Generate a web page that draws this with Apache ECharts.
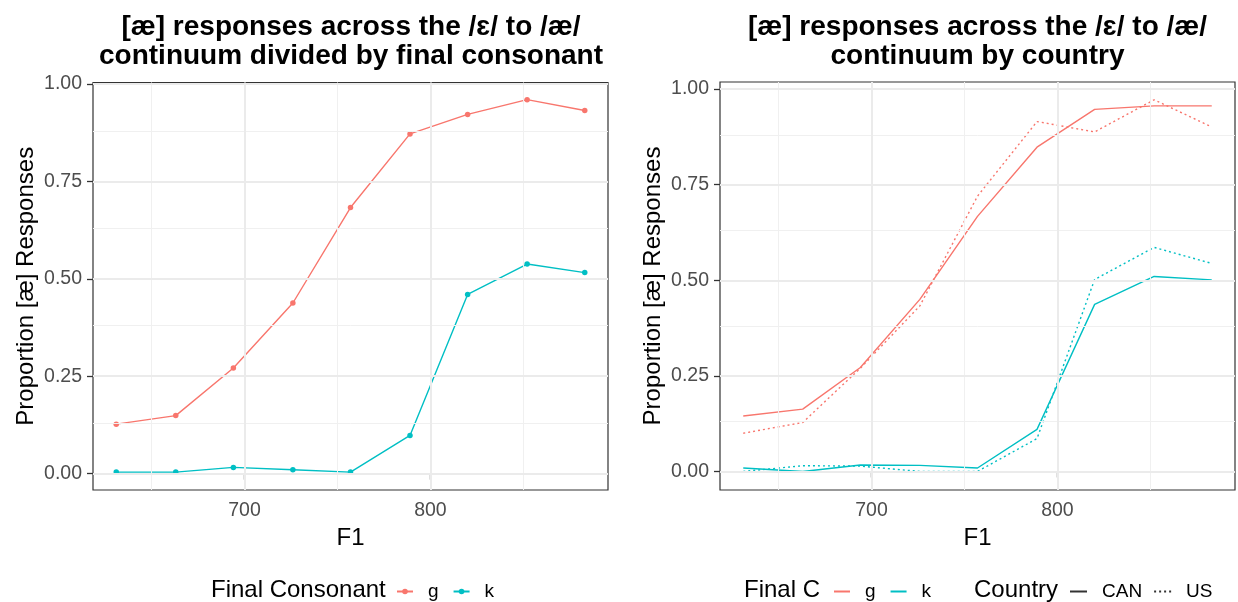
<!DOCTYPE html>
<html>
<head>
<meta charset="utf-8">
<script src="https://cdn.jsdelivr.net/npm/echarts@6/dist/echarts.min.js"></script>
<style>
html,body{margin:0;padding:0;background:#fff;}
#c{width:1238px;height:602px;}
</style>
</head>
<body>
<div id="c"></div>
<script>
// ---- data ----
const F1 = [631, 663, 694, 726, 757, 789, 820, 852, 883];
const LEFT_G = [0.127, 0.149, 0.271, 0.438, 0.683, 0.872, 0.922, 0.960, 0.932];
const LEFT_K = [0.004, 0.004, 0.016, 0.010, 0.004, 0.098, 0.460, 0.538, 0.516];
const G_CAN = [0.145, 0.163, 0.272, 0.450, 0.667, 0.848, 0.947, 0.956, 0.956];
const G_US  = [0.100, 0.128, 0.270, 0.433, 0.720, 0.915, 0.888, 0.972, 0.901];
const K_CAN = [0.009, 0.000, 0.017, 0.016, 0.009, 0.110, 0.437, 0.510, 0.501];
const K_US  = [0.000, 0.015, 0.014, 0.000, 0.000, 0.086, 0.502, 0.586, 0.544];
const Y_TICKS = [0, 0.25, 0.5, 0.75, 1];
const Y_MINOR = [0.125, 0.375, 0.625, 0.875];
const X_TICKS = [700, 800];
const X_MINOR = [650, 750, 850];
const TITLE_LEFT = '[æ] responses across the /ɛ/ to /æ/\ncontinuum divided by final consonant';
const TITLE_RIGHT = '[æ] responses across the /ɛ/ to /æ/\ncontinuum by country';
const Y_NAME = 'Proportion [æ] Responses';
const X_NAME = 'F1';

const RED = '#F8766D', CYAN = '#00BFC4';
const FONT = '"Liberation Sans", Arial, Helvetica, sans-serif';
const pairs = arr => F1.map((x, i) => [x, arr[i]]);

function xAxis(gi) {
  return {
    type: 'value', gridIndex: gi, min: 618.5, max: 895.5,
    name: X_NAME, nameLocation: 'middle', nameGap: 30,
    nameTextStyle: {fontSize: 24, color: '#000', fontFamily: FONT},
    axisLine: {show: false},
    axisTick: {show: true, length: 6, lineStyle: {color: '#333', width: 1.3}, customValues: X_TICKS},
    axisLabel: {customValues: X_TICKS, fontSize: 19.5, color: '#4D4D4D', fontFamily: FONT, margin: 11,
      formatter: v => String(Math.round(v))},
    splitLine: {show: false}
  };
}
function yAxis(gi, mn, mx) {
  return {
    type: 'value', gridIndex: gi, min: mn, max: mx,
    name: Y_NAME, nameLocation: 'middle', nameGap: 55, nameRotate: 90,
    nameTextStyle: {fontSize: 24, color: '#000', fontFamily: FONT},
    axisLine: {show: false},
    axisTick: {show: true, length: 6, lineStyle: {color: '#333', width: 1.3}, customValues: Y_TICKS},
    axisLabel: {customValues: Y_TICKS, fontSize: 19.5, color: '#4D4D4D', fontFamily: FONT, margin: 11,
      formatter: v => v.toFixed(2)},
    splitLine: {show: false}
  };
}
function gridSeries(gi) {
  const major = {color: '#EBEBEB', width: 2, type: 'solid'};
  const minor = {color: '#F0F0F0', width: 1, type: 'solid'};
  const data = []
    .concat(Y_MINOR.map(v => ({yAxis: v, lineStyle: minor})))
    .concat(X_MINOR.map(v => ({xAxis: v, lineStyle: minor})))
    .concat(Y_TICKS.map(v => ({yAxis: v, lineStyle: major})))
    .concat(X_TICKS.map(v => ({xAxis: v, lineStyle: major})));
  return {
    type: 'line', name: '_grid' + gi, xAxisIndex: gi, yAxisIndex: gi, data: [], z: 1, silent: true,
    markLine: {silent: true, symbol: 'none', label: {show: false}, animation: false, data: data}
  };
}
function lineSeries(name, gi, arr, color, dotted, withSymbol) {
  return {
    type: 'line', name: name, xAxisIndex: gi, yAxisIndex: gi, data: pairs(arr), z: 3,
    symbol: withSymbol ? 'circle' : 'none', symbolSize: 5.5, showSymbol: !!withSymbol,
    itemStyle: {color: color},
    lineStyle: {color: color, width: 1.4, type: dotted ? [2, 3] : 'solid'},
    emphasis: {disabled: true}
  };
}
function keySeries(name, dotted) {
  return {
    type: 'line', name: name, xAxisIndex: 1, yAxisIndex: 1, data: [], symbol: 'none',
    itemStyle: {color: '#333'},
    lineStyle: {color: '#333', width: 1.4, type: dotted ? [2, 3] : 'solid'}
  };
}
const legendText = {fontSize: 19, color: '#000', fontFamily: FONT, padding: [0, 0, 0, 10]};

const chart = echarts.init(document.getElementById('c'), null, {renderer: 'canvas'});
chart.setOption({
  animation: false,
  backgroundColor: '#fff',
  textStyle: {fontFamily: FONT},
  grid: [
    {left: 93, top: 82.5, width: 515, height: 407.5, show: true, backgroundColor: '#fff', borderColor: '#333', borderWidth: 1.2},
    {left: 720, top: 82, width: 515, height: 408, show: true, backgroundColor: '#fff', borderColor: '#333', borderWidth: 1.2}
  ],
  xAxis: [xAxis(0), xAxis(1)],
  yAxis: [yAxis(0, -0.042, 1.004), yAxis(1, -0.0485, 1.0185)],
  legend: [
    {data: ['g', 'k'], left: 396, top: 582, padding: 0, itemWidth: 16, itemHeight: 7, itemGap: 14,
      textStyle: legendText, selectedMode: false},
    {data: ['g ', 'k '], left: 833, top: 582, padding: 0, itemWidth: 16, itemHeight: 7, itemGap: 14,
      textStyle: legendText, selectedMode: false, formatter: n => n.trim(), itemStyle: {opacity: 0}},
    {data: ['CAN', 'US'], left: 1069, top: 582, padding: 0, itemWidth: 17, itemHeight: 7, itemGap: 11,
      textStyle: legendText, selectedMode: false, itemStyle: {opacity: 0}}
  ],
  graphic: [
    {type: 'text', x: 351, y: 13, silent: true, style: {text: TITLE_LEFT, font: 'bold 28px ' + FONT, fill: '#000', textAlign: 'center', textVerticalAlign: 'top', lineHeight: 29}},
    {type: 'text', x: 977.5, y: 13, silent: true, style: {text: TITLE_RIGHT, font: 'bold 28px ' + FONT, fill: '#000', textAlign: 'center', textVerticalAlign: 'top', lineHeight: 29}},
    {type: 'text', x: 211, y: 590, silent: true, style: {text: 'Final Consonant', font: '24px ' + FONT, fill: '#000', textAlign: 'left', textVerticalAlign: 'middle'}},
    {type: 'text', x: 744, y: 590, silent: true, style: {text: 'Final C', font: '24px ' + FONT, fill: '#000', textAlign: 'left', textVerticalAlign: 'middle'}},
    {type: 'text', x: 974, y: 590, silent: true, style: {text: 'Country', font: '24px ' + FONT, fill: '#000', textAlign: 'left', textVerticalAlign: 'middle'}}
  ],
  series: [
    gridSeries(0), gridSeries(1),
    lineSeries('g', 0, LEFT_G, RED, false, true),
    lineSeries('k', 0, LEFT_K, CYAN, false, true),
    lineSeries('g ', 1, G_CAN, RED, false, false),
    lineSeries('g ', 1, G_US, RED, true, false),
    lineSeries('k ', 1, K_CAN, CYAN, false, false),
    lineSeries('k ', 1, K_US, CYAN, true, false),
    keySeries('CAN', false),
    keySeries('US', true)
  ]
});
</script>
</body>
</html>
